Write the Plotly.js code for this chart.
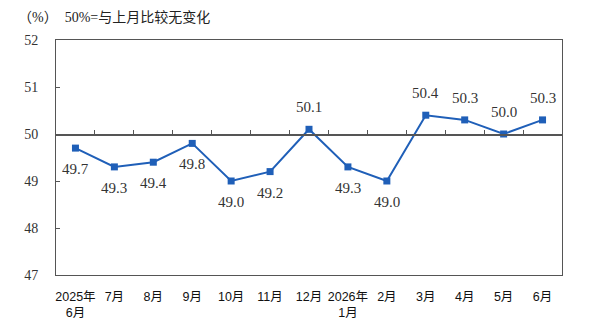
<!DOCTYPE html>
<html><head><meta charset="utf-8">
<script src="https://cdn.plot.ly/plotly-3.0.1.min.js"></script>
<style>html,body{margin:0;padding:0;background:#fff}#chart{width:600px;height:321px}</style>
</head><body><div id="chart"></div>
<script>
const categories = ['2025年<br>6月','7月','8月','9月','10月','11月','12月','2026年<br>1月','2月','3月','4月','5月','6月'];
const values = [49.7,49.3,49.4,49.8,49.0,49.2,50.1,49.3,49.0,50.4,50.3,50.0,50.3];
const labelAbove = [false,false,false,false,false,false,true,false,false,true,true,true,true];
const yTicks = [47,48,49,50,51,52];
const boundaryTicks = [0.5,1.5,2.5,3.5,4.5,5.5,6.5,7.5,8.5,9.5,10.5,11.5];

const xIdx = categories.map((_, i) => i);
const trace = {
  x: xIdx, y: values, type: 'scatter', mode: 'lines+markers',
  line: {color: '#1f5fb8', width: 2},
  marker: {symbol: 'square', size: 7, color: '#1f5fb8'},
  cliponaxis: false, hoverinfo: 'skip'
};
const ref = {x: [0], y: [50], xaxis: 'x2', yaxis: 'y', mode: 'markers', marker: {opacity: 0}, showlegend: false, hoverinfo: 'skip'};
const valueLabels = values.map((v, i) => ({
  x: i, y: v, xref: 'x', yref: 'y', text: v.toFixed(1), showarrow: false,
  yshift: labelAbove[i] ? 22 : -21, xanchor: 'center', yanchor: 'middle',
  font: {family: 'Liberation Serif, serif', size: 15, color: '#333'}
}));
const layout = {
  width: 600, height: 321,
  margin: {l: 56, r: 38, t: 40, b: 46},
  paper_bgcolor: '#fff', plot_bgcolor: '#fff',
  showlegend: false,
  xaxis: {
    range: [-0.5, 12.5], tickvals: xIdx, ticktext: categories,
    showgrid: false, zeroline: false, showline: true, mirror: true, linecolor: '#555', linewidth: 1,
    ticks: '', ticklabelstandoff: 10,
    tickfont: {family: 'Liberation Sans, Noto Sans CJK SC, sans-serif', size: 12.5, color: '#111'}
  },
  xaxis2: {
    overlaying: 'x', anchor: 'free', position: 0.6, range: [-0.5, 12.5],
    tickvals: boundaryTicks, showticklabels: false, ticks: 'inside', ticklen: 4, tickcolor: '#555',
    showline: true, linecolor: '#555', linewidth: 1.5, showgrid: false, zeroline: false
  },
  yaxis: {
    range: [47, 52], tickvals: yTicks, showgrid: false, zeroline: false,
    showline: true, mirror: true, linecolor: '#555', linewidth: 1,
    ticks: 'inside', ticklen: 4, tickcolor: '#555', ticklabelstandoff: 14,
    tickfont: {family: 'Liberation Serif, serif', size: 14, color: '#333'}
  },
  annotations: valueLabels.concat([{
    xref: 'paper', yref: 'paper', x: -40/506, y: 1.0, yshift: 23, xanchor: 'left', yanchor: 'middle',
    text: '（%）  50%=与上月比较无变化', showarrow: false,
    font: {family: 'Liberation Serif, Noto Sans CJK SC, serif', size: 14, color: '#222'}
  }])
};
Plotly.newPlot('chart', [trace, ref], layout, {displayModeBar: false, staticPlot: true});
</script></body></html>
